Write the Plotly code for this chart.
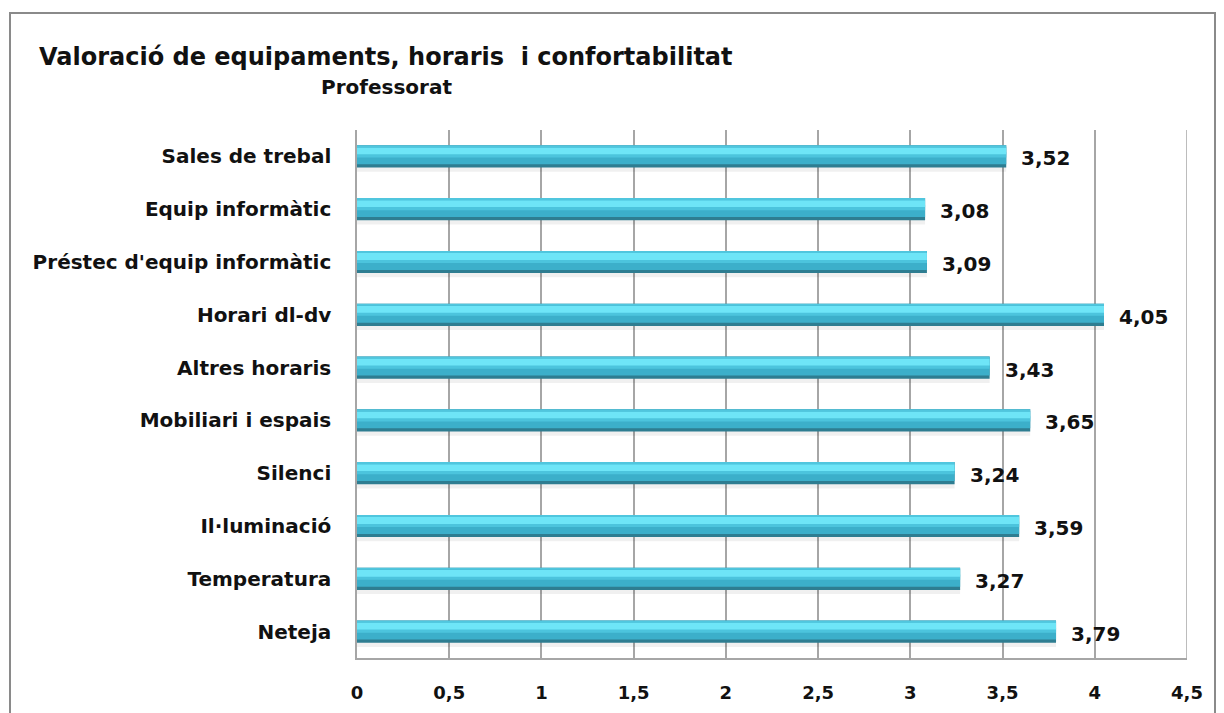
import plotly.graph_objects as go

categories = ["Sales de trebal", "Equip informàtic", "Préstec d'equip informàtic", "Horari dl-dv",
              "Altres horaris", "Mobiliari i espais", "Silenci", "Il·luminació", "Temperatura", "Neteja"]
values = [3.52, 3.08, 3.09, 4.05, 3.43, 3.65, 3.24, 3.59, 3.27, 3.79]
x_ticks = [0, 0.5, 1, 1.5, 2, 2.5, 3, 3.5, 4, 4.5]
x_tick_labels = ["0", "0,5", "1", "1,5", "2", "2,5", "3", "3,5", "4", "4,5"]
title = "Valoració de equipaments, horaris  i confortabilitat"
subtitle = "Professorat"

n = len(categories)
pos = [n - 1 - i for i in range(n)]

W, H = 1224, 713
OFF = 8  # page body margin
L, R, T, B = 357 - OFF, 1224 - (1187 - OFF), 130 - OFF, 713 - (658 - OFF)
pw, ph = W - L - R, H - T - B

def px(xp):  # page pixel -> paper x
    return (xp - OFF - L) / pw

def py(yp):  # page pixel -> paper y
    return (H - B - (yp - OFF)) / ph

FONT = "DejaVu Sans"
fig = go.Figure()

# layers (offset from centre, width, colour) to imitate the 3D cylinder shading
layers = [
    (-0.29, 0.09, "rgba(0,0,0,0.06)"),
    (-0.21, 0.42, "#2e7d91"),
    (-0.15, 0.33, "#3cafca"),
    (-0.02, 0.10, "#4cc4dd"),
    (0.04, 0.13, "#6ee5f7"),
    (0.17, 0.04, "#50c6de"),
]
for off, wid, col in layers:
    fig.add_trace(go.Bar(
        x=values, y=pos, orientation="h",
        offset=off, width=wid,
        marker=dict(color=col, line=dict(width=0)),
        hoverinfo="skip", showlegend=False,
    ))

for v, p in zip(values, pos):
    fig.add_annotation(x=v, y=p, text=f"{v:.2f}".replace(".", ","), showarrow=False,
                       xanchor="left", yanchor="middle", xshift=13, yshift=-2,
                       font=dict(family=FONT, size=20, color="#111111", weight="bold"))

fig.add_annotation(x=px(37), y=py(57), xref="paper", yref="paper", text=title, showarrow=False,
                   xanchor="left", yanchor="middle",
                   font=dict(family=FONT, size=24, color="#111111", weight="bold"))
fig.add_annotation(x=px(319), y=py(87), xref="paper", yref="paper", text=subtitle, showarrow=False,
                   xanchor="left", yanchor="middle",
                   font=dict(family=FONT, size=20, color="#111111", weight="bold"))

# chart frame
fig.add_shape(type="rect", xref="paper", yref="paper",
              x0=px(10), x1=px(1215), y0=py(760), y1=py(13),
              line=dict(color="#8a8a8a", width=2), layer="below")
fig.add_shape(type="line", xref="x", yref="paper", x0=4.5, x1=4.5, y0=0, y1=1,
              line=dict(color="#a6a6a6", width=1.5), layer="below")

fig.update_layout(
    width=W, height=H,
    margin=dict(l=L, r=R, t=T, b=B),
    paper_bgcolor="white", plot_bgcolor="white",
    barmode="overlay",
    xaxis=dict(range=[0, 4.5], tickvals=x_ticks, ticktext=x_tick_labels,
               showgrid=True, gridcolor="#a6a6a6", gridwidth=1.5,
               showline=True, linecolor="#a6a6a6", linewidth=1.5,
               zeroline=False, ticks="", ticklabelstandoff=18,
               tickfont=dict(family=FONT, size=18, color="#111111", weight="bold")),
    yaxis=dict(range=[-0.5, n - 0.5], tickvals=pos, ticktext=categories,
               showgrid=False, showline=True, linecolor="#a6a6a6", linewidth=1.5,
               zeroline=False, ticks="", ticklabelstandoff=20,
               tickfont=dict(family=FONT, size=20, color="#111111", weight="bold")),
)

fig.write_html("out.html")
